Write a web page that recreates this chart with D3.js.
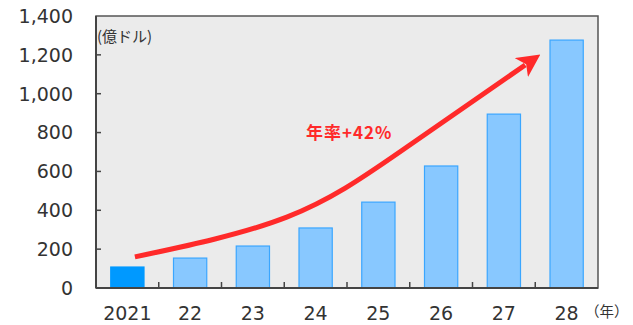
<!DOCTYPE html>
<html>
<head>
<meta charset="utf-8">
<script src="https://cdn.jsdelivr.net/npm/d3@7"></script>
<style>
  body { margin: 0; background: #fff; }
  svg { display: block; }
</style>
</head>
<body>
<svg id="chart"></svg>
<script>
// data
const years = ["2021", "22", "23", "24", "25", "26", "27", "28"];
const values = [108, 154, 216, 309, 442, 628, 895, 1276];
const yTicks = [0, 200, 400, 600, 800, 1000, 1200, 1400];

// growth arrow annotation (category index, value)
const arrowX = [0.12, 2.54, 4.34, 6.34];
const arrowY = [160, 365, 700, 1148];
const arrowLabel = "年率+42%";

const width = 633, height = 325;
const margin = { top: 16, right: 35, bottom: 37, left: 96 };

const svg = d3.select("#chart")
    .attr("width", width)
    .attr("height", height);

const x = d3.scaleBand()
    .domain(years)
    .range([margin.left, width - margin.right])
    .paddingInner(0.47)
    .paddingOuter(0.235);

const y = d3.scaleLinear()
    .domain([0, 1400])
    .range([height - margin.bottom, margin.top]);

// fractional category index -> pixel
const xi = d3.scaleLinear()
    .domain([0, years.length])
    .range([margin.left, width - margin.right]);

const font = "'DejaVu Sans', Verdana, sans-serif";

// plot background + frame
svg.append("rect")
    .attr("x", margin.left).attr("y", margin.top)
    .attr("width", width - margin.right - margin.left)
    .attr("height", height - margin.bottom - margin.top)
    .attr("fill", "#ebebeb")
    .attr("stroke", "#555")
    .attr("stroke-width", 1.5);

// bars
svg.selectAll(".bar")
    .data(values)
    .enter()
    .append("rect")
    .attr("class", "bar")
    .attr("x", (d, i) => x(years[i]))
    .attr("y", d => y(d))
    .attr("width", x.bandwidth())
    .attr("height", d => y(0) - y(d))
    .attr("fill", (d, i) => i === 0 ? "#0099ff" : "#88c8ff")
    .attr("stroke", (d, i) => i === 0 ? "#0099ff" : "#3aa6ff")
    .attr("stroke-width", 1.2);

// axis lines
svg.append("line")
    .attr("x1", margin.left).attr("x2", margin.left)
    .attr("y1", margin.top).attr("y2", y(0))
    .attr("stroke", "#444").attr("stroke-width", 2);
svg.append("line")
    .attr("x1", margin.left).attr("x2", width - margin.right)
    .attr("y1", y(0)).attr("y2", y(0))
    .attr("stroke", "#444").attr("stroke-width", 2);

// y ticks (inside) and labels
svg.selectAll(".ytick")
    .data(yTicks.slice(1, -1))
    .enter()
    .append("line")
    .attr("x1", margin.left).attr("x2", margin.left + 5)
    .attr("y1", d => y(d)).attr("y2", d => y(d))
    .attr("stroke", "#444").attr("stroke-width", 1.5);

svg.selectAll(".ylab")
    .data(yTicks)
    .enter()
    .append("text")
    .attr("x", 73)
    .attr("y", d => y(d))
    .attr("dy", "0.36em")
    .attr("text-anchor", "end")
    .attr("font-family", font)
    .attr("font-size", 19)
    .attr("fill", "#333")
    .text(d => d3.format(",")(d));

// x ticks between categories
svg.selectAll(".xtick")
    .data(d3.range(1, years.length))
    .enter()
    .append("line")
    .attr("x1", d => xi(d)).attr("x2", d => xi(d))
    .attr("y1", y(0)).attr("y2", y(0) - 6)
    .attr("stroke", "#444").attr("stroke-width", 1.5);

svg.selectAll(".xlab")
    .data(years)
    .enter()
    .append("text")
    .attr("x", d => x(d) + x.bandwidth() / 2)
    .attr("y", 313)
    .attr("dy", "0.36em")
    .attr("text-anchor", "middle")
    .attr("font-family", font)
    .attr("font-size", 19)
    .attr("fill", "#333")
    .text(d => d);

// unit labels
svg.append("text")
    .attr("x", 97).attr("y", 37)
    .attr("dy", "0.36em")
    .attr("font-family", "'Noto Sans CJK JP', sans-serif")
    .attr("font-size", 15)
    .attr("fill", "#333")
    .text("(億ドル)");

svg.append("text")
    .attr("x", 585).attr("y", 312)
    .attr("dy", "0.36em")
    .attr("font-family", "'Noto Sans CJK JP', sans-serif")
    .attr("font-size", 14.5)
    .attr("fill", "#333")
    .text("（年）");

// growth arrow
const defs = svg.append("defs");
defs.append("marker")
    .attr("id", "head")
    .attr("viewBox", "0 0 10 10")
    .attr("refX", 2).attr("refY", 5)
    .attr("markerWidth", 4.6).attr("markerHeight", 4.6)
    .attr("markerUnits", "strokeWidth")
    .attr("orient", "auto")
    .append("path")
    .attr("d", "M0,0 L10,5 L0,10 L2.5,5 Z")
    .attr("fill", "#ff2a2a");

const arrowPts = arrowX.map((d, i) => [xi(d + 0.5), y(arrowY[i])]);
svg.append("path")
    .attr("d", d3.line().curve(d3.curveNatural)(arrowPts))
    .attr("fill", "none")
    .attr("stroke", "#ff2a2a")
    .attr("stroke-width", 5)
    .attr("marker-end", "url(#head)");

svg.append("text")
    .attr("x", 306).attr("y", 133)
    .attr("dy", "0.36em")
    .attr("font-family", "'Noto Sans CJK JP', sans-serif")
    .attr("font-weight", "bold")
    .attr("font-size", 17)
    .attr("letter-spacing", 1)
    .attr("fill", "#ff2a2a")
    .text(arrowLabel);
</script>
</body>
</html>
